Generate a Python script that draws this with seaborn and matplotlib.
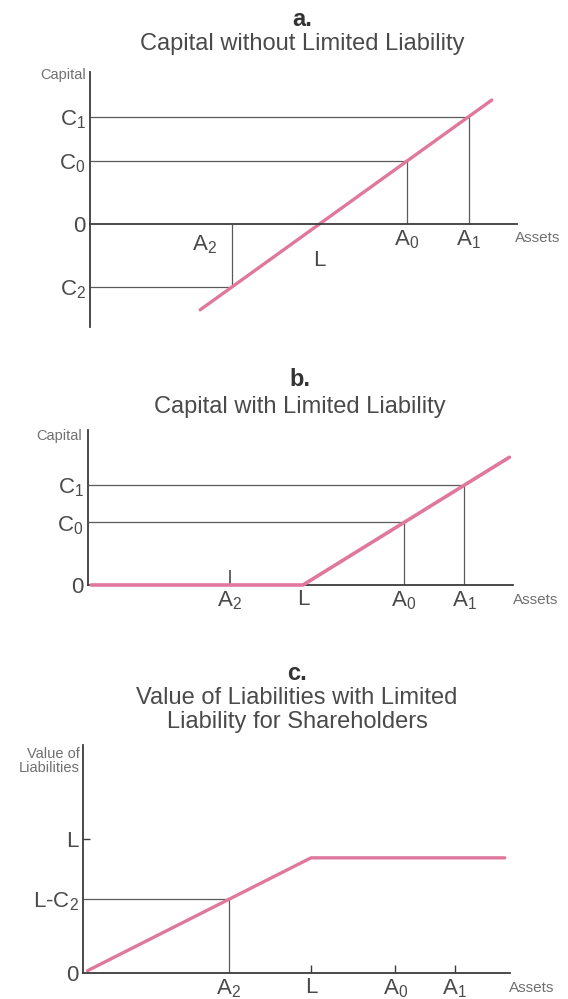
import seaborn as sns
import matplotlib.pyplot as plt

sns.set_style("white")
plt.rcParams['font.family'] = ['Liberation Sans', 'DejaVu Sans']
plt.rcParams['mathtext.default'] = 'regular'

W, H = 568, 999
pink = '#e0789e'
grey = '#5a5a5a'
dark = '#3c3c3c'
txt = '#4a4a4a'

# --- data (L = 10 in every panel) ---
liab = 10.0

# a. capital without limited liability: C = A - L
a_assets = [6.2, 13.8, 16.5]          # A2, A0, A1
a_capital = [-3.8, 3.8, 6.5]          # C2, C0, C1
a_line_x = [4.8, 17.5]
a_line_y = [-5.2, 7.5]

# b. capital with limited liability: C = max(A - L, 0)
b_assets = [6.6, 14.7, 17.5]
b_capital = [0.0, 4.7, 7.5]
b_line_x = [0.15, 10.0, 19.6]
b_line_y = [0.0, 0.0, 9.6]

# c. value of liabilities
c_assets = [6.4, 13.7, 16.3]
c_value_a2 = 6.4                      # L-C2
c_l_tick = 11.6
c_line_x = [0.2, 10.0, 18.5]
c_line_y = [0.2, 10.0, 10.0]

fig = plt.figure(figsize=(W / 100, H / 100), dpi=100)


def px_axes(l, t, r, b):
    return fig.add_axes([l / W, 1 - b / H, (r - l) / W, (b - t) / H])


def ftext(x, y, s, **kw):
    fig.text(x / W, 1 - y / H, s, **kw)


def style(ax):
    for s in ['top', 'right']:
        ax.spines[s].set_visible(False)
    for s in ['left', 'bottom']:
        ax.spines[s].set_color(dark)
        ax.spines[s].set_linewidth(1.3)
    ax.tick_params(which='both', labelsize=16, labelcolor=txt, color=dark,
                   length=0, pad=3, bottom=True, left=True)


# ---------- panel a ----------
ax = px_axes(90, 72, 517, 327)
style(ax)
ax.set_xlim(0, 18.6)
ax.set_ylim(-6.24, 9.2)
ax.spines['bottom'].set_position(('data', 0))
for A, C in zip(a_assets, a_capital):
    ax.hlines(C, 0, A, color=grey, lw=0.9)
    ax.vlines(A, min(C, 0), max(C, 0), color=grey, lw=0.9)
sns.lineplot(x=a_line_x, y=a_line_y, ax=ax, color=pink, lw=2.4)
ax.set_yticks([a_capital[2], a_capital[1], 0, a_capital[0]])
ax.set_yticklabels(['$C_1$', '$C_0$', '0', '$C_2$'])
ax.set_xticks(a_assets[1:])
ax.set_xticklabels(['$A_0$', '$A_1$'])
ax.annotate('$A_2$', xy=(a_assets[0], 0), xytext=(-20, -15), textcoords='offset points',
            ha='center', va='center', fontsize=16, color=txt)
ax.annotate('L', xy=(liab, 0), xytext=(0, -26), textcoords='offset points',
            ha='center', va='center', fontsize=16, color=txt)

ftext(302, 20, 'a.', ha='center', va='center', fontsize=17, fontweight='bold', color='#333333')
ftext(302, 44, 'Capital without Limited Liability', ha='center', va='center',
      fontsize=17, color=txt)
ftext(86, 75, 'Capital', ha='right', va='center', fontsize=10.5, color='#707070')
ftext(515, 238, 'Assets', ha='left', va='center', fontsize=11, color='#707070')

# ---------- panel b ----------
ax = px_axes(88, 430, 513, 585)
style(ax)
ax.set_xlim(0, 19.77)
ax.set_ylim(0, 11.65)
for A, C in zip(b_assets[1:], b_capital[1:]):
    ax.hlines(C, 0, A, color=grey, lw=0.9)
    ax.vlines(A, 0, C, color=grey, lw=0.9)
sns.lineplot(x=b_line_x, y=b_line_y, ax=ax, color=pink, lw=2.6, clip_on=False, zorder=5)
ax.set_yticks([b_capital[2], b_capital[1], 0])
ax.set_yticklabels(['$C_1$', '$C_0$', '0'])
ax.set_xticks([liab, b_assets[1], b_assets[2]])
ax.set_xticklabels(['L', '$A_0$', '$A_1$'])
ax.set_xticks([b_assets[0]], minor=True)
ax.set_xticklabels(['$A_2$'], minor=True)
ax.tick_params(axis='x', which='minor', direction='in', length=11, width=1.1)

ftext(300, 379, 'b.', ha='center', va='center', fontsize=17, fontweight='bold', color='#333333')
ftext(300, 407, 'Capital with Limited Liability', ha='center', va='center',
      fontsize=17, color=txt)
ftext(82, 436, 'Capital', ha='right', va='center', fontsize=10.5, color='#707070')
ftext(513, 600, 'Assets', ha='left', va='center', fontsize=11, color='#707070')

# ---------- panel c ----------
ax = px_axes(83, 745, 510, 973)
style(ax)
ax.set_xlim(0, 18.73)
ax.set_ylim(0, 19.8)
ax.hlines(c_value_a2, 0, c_assets[0], color=grey, lw=0.9)
ax.vlines(c_assets[0], 0, c_value_a2, color=grey, lw=0.9)
sns.lineplot(x=c_line_x, y=c_line_y, ax=ax, color=pink, lw=2.4)
ax.set_yticks([c_value_a2, 0])
ax.set_yticklabels(['L-$C_2$', '0'])
ax.set_yticks([c_l_tick], minor=True)
ax.set_yticklabels(['L'], minor=True)
ax.tick_params(axis='y', which='minor', direction='in', length=5, width=1.0)
ax.set_xticks([liab, c_assets[1], c_assets[2]])
ax.set_xticklabels(['L', '$A_0$', '$A_1$'])
ax.tick_params(axis='x', which='major', direction='in', length=6, width=1.0)
ax.set_xticks([c_assets[0]], minor=True)
ax.set_xticklabels(['$A_2$'], minor=True)

ftext(297, 673, 'c.', ha='center', va='center', fontsize=17, fontweight='bold', color='#333333')
ftext(297, 710, 'Value of Liabilities with Limited\nLiability for Shareholders',
      ha='center', va='center', fontsize=17, color=txt, linespacing=1.15)
ftext(80, 761, 'Value of\nLiabilities', ha='right', va='center', fontsize=10.5,
      color='#707070', linespacing=0.95)
ftext(509, 988, 'Assets', ha='left', va='center', fontsize=11, color='#707070')

fig.savefig('out.png', dpi=100, facecolor='white')
